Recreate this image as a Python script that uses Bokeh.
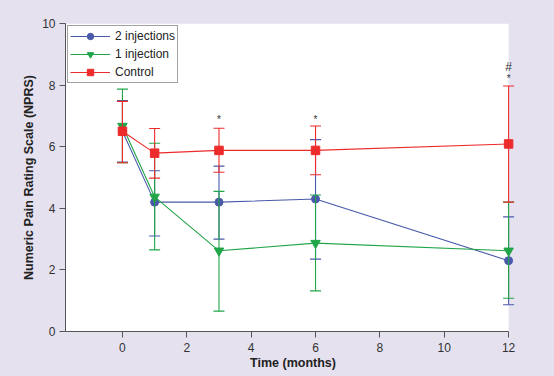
from bokeh.plotting import figure
from bokeh.models import ColumnDataSource, FixedTicker, Range1d, Legend, BoxAnnotation
from bokeh.embed import file_html
from bokeh.resources import INLINE
from bokeh.core.properties import value
from jinja2 import Template

# ---- data ----
months = [0, 1, 3, 6, 12]
two_inj = [6.5, 4.2, 4.2, 4.3, 2.3]
two_inj_lo = [5.5, 3.1, 3.0, 2.35, 0.87]
two_inj_hi = [7.5, 5.22, 5.37, 6.23, 3.72]
one_inj = [6.67, 4.37, 2.62, 2.87, 2.62]
one_inj_lo = [5.48, 2.65, 0.66, 1.32, 1.08]
one_inj_hi = [7.87, 6.11, 4.55, 4.43, 4.2]
control = [6.5, 5.79, 5.88, 5.88, 6.09]
control_lo = [5.48, 4.98, 5.17, 5.09, 4.2]
control_hi = [7.47, 6.59, 6.6, 6.67, 7.97]
x_ticks = [0, 2, 4, 6, 8, 10, 12]
y_ticks = [0, 2, 4, 6, 8, 10]
star_x = [3, 6, 12]
star_y = [6.89, 6.89, 8.21]
hash_x = [12]
hash_y = [8.6]

BG = "#e5e1ef"
FONT = "Liberation Sans"
X_START = -1.77
X_END = 12.37

p = figure(width=554, height=376, output_backend="svg", toolbar_location=None,
           x_range=Range1d(X_START, X_END), y_range=Range1d(y_ticks[0], y_ticks[-1]),
           min_border_left=65, min_border_right=34, min_border_top=23, min_border_bottom=45)
p.background_fill_color = BG
p.border_fill_color = BG
p.outline_line_color = None
p.xgrid.visible = False
p.ygrid.visible = False

# white plotting area up to the last time point
p.add_layout(BoxAnnotation(right=months[-1], fill_color="white", fill_alpha=1.0,
                           line_color=None, level="underlay"))

for ax in (p.xaxis[0], p.yaxis[0]):
    ax.axis_line_color = "#555555"
    ax.major_tick_line_color = "#555555"
    ax.minor_tick_line_color = None
    ax.major_tick_in = 0
    ax.major_tick_out = 6
    ax.major_label_text_font = FONT
    ax.major_label_text_font_size = "12px"
    ax.major_label_text_color = "#333333"
    ax.axis_label_text_font = FONT
    ax.axis_label_text_font_size = "12.5px"
    ax.axis_label_text_font_style = "bold"
    ax.axis_label_text_color = "#222222"
p.xaxis[0].ticker = FixedTicker(ticks=x_ticks)
p.yaxis[0].ticker = FixedTicker(ticks=y_ticks)
p.xaxis[0].bounds = (X_START, months[-1])
p.xaxis[0].axis_label = "Time (months)"
p.yaxis[0].axis_label = "Numeric Pain Rating Scale (NPRS)"
p.xaxis[0].major_label_standoff = 5
p.yaxis[0].major_label_standoff = 4
p.xaxis[0].axis_label_standoff = 1
p.yaxis[0].axis_label_standoff = 3

series = [
    ("2 injections", two_inj, two_inj_lo, two_inj_hi, "#4a5aab", "circle", 8),
    ("1 injection", one_inj, one_inj_lo, one_inj_hi, "#20a548", "inverted_triangle", 9.5),
    ("Control", control, control_lo, control_hi, "#ee2b2b", "square", 8.5),
]

items = []
for name, ys, lo, hi, col, marker, size in series:
    src = ColumnDataSource(dict(x=months, y=ys, lo=lo, hi=hi))
    p.segment(x0="x", y0="lo", x1="x", y1="hi", source=src, line_color=col, line_width=1.1)
    p.scatter("x", "hi", source=src, marker="dash", size=11, line_color=col, line_width=1.1)
    p.scatter("x", "lo", source=src, marker="dash", size=11, line_color=col, line_width=1.1)
    l = p.line("x", "y", source=src, line_color=col, line_width=1.1)
    s = p.scatter("x", "y", source=src, marker=marker, size=size, fill_color=col, line_color=col)
    items.append((name, [l, s]))

p.text(x=star_x, y=star_y, text=["*"] * len(star_x), text_font=value(FONT), text_font_size="10px",
       text_align="center", text_baseline="middle", text_color="#333333")
p.text(x=hash_x, y=hash_y, text=["#"] * len(hash_x), text_font=value(FONT), text_font_size="12px",
       text_align="center", text_baseline="middle", text_color="#333333")

legend = Legend(items=items, location="top_left")
legend.border_line_color = "#444444"
legend.border_line_width = 1
legend.background_fill_color = "white"
legend.label_text_font = FONT
legend.label_text_font_size = "12px"
legend.label_text_color = "#222222"
legend.glyph_width = 40
legend.glyph_height = 16
legend.label_height = 16
legend.spacing = 2
legend.padding = 2
legend.margin = 2
legend.label_standoff = 5
p.add_layout(legend)

template = Template("""{% extends base %}
{% block preamble %}<style>html, body { background: #e5e1ef; }</style>{% endblock %}""")

open("out.html", "w").write(file_html(p, INLINE, template=template))
